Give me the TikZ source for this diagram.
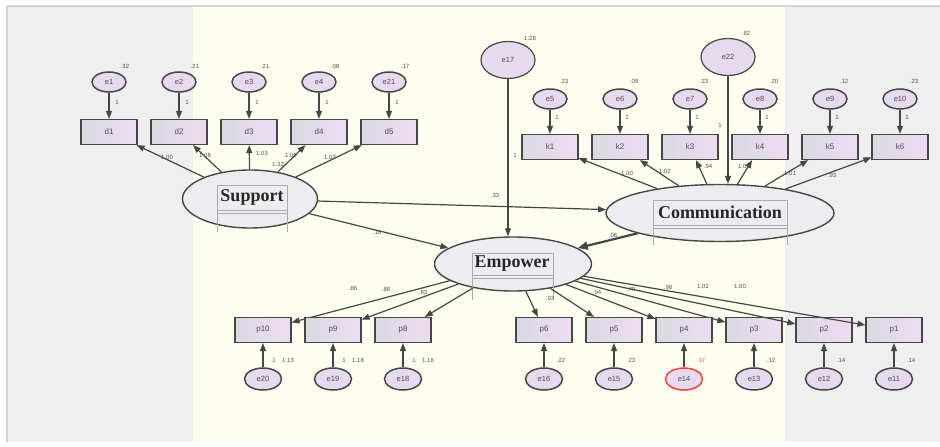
\documentclass[tikz,border=0pt]{standalone}
\usepackage{fontspec}
\setmainfont{Liberation Serif}
\setsansfont{Liberation Sans}
\usetikzlibrary{arrows.meta,shapes.geometric}
\definecolor{bggray}{HTML}{EFEFEF}
\definecolor{cream}{HTML}{FEFEF0}
\definecolor{framec}{HTML}{D4D4D4}
\definecolor{efill}{HTML}{E6DAEE}
\definecolor{boxL}{HTML}{DADAE2}
\definecolor{boxR}{HTML}{EEDCF2}
\definecolor{latfill}{HTML}{EDEDF1}
\definecolor{edgec}{HTML}{464646}
\definecolor{txtc}{HTML}{4E4A5E}
\definecolor{valc}{HTML}{505050}
\begin{document}
\begin{tikzpicture}[x=1pt,y=-1pt,
  err/.style={ellipse,draw=edgec,line width=1.5pt,fill=efill,minimum width=34pt,minimum height=20pt,inner sep=0pt,font=\sffamily\fontsize{7.5}{7.5}\selectfont,text=txtc},
  bigerr/.style={err,minimum width=54pt,minimum height=37pt,line width=1.2pt},
  obs/.style={rectangle,draw=edgec,line width=1.2pt,left color=boxL,right color=boxR,minimum width=56pt,minimum height=25pt,inner sep=0pt,font=\sffamily\fontsize{8}{8}\selectfont,text=txtc},
  lat/.style={ellipse,draw=edgec,line width=1.4pt,fill=latfill,inner sep=0pt},
  lattext/.style={font=\bfseries\fontsize{18}{18}\selectfont,text=black!85,inner sep=0pt},
  arr/.style={draw=edgec,line width=1.2pt,-{Triangle[length=8pt,width=6pt]}},
  val/.style={font=\sffamily\fontsize{6}{6}\selectfont,text=valc,inner sep=0pt},
  labbox/.style={draw=gray!65,line width=0.5pt}
]
\useasboundingbox (0,0) rectangle (940,447);
\fill[white] (0,0) rectangle (940,447);
\fill[bggray] (7,6) rectangle (940,442);
\draw[framec,line width=1.5pt] (7,442) -- (7,6) -- (940,6);
\fill[cream] (193,7) rectangle (785,442);

% latent variables
\node[lat,minimum width=135pt,minimum height=58pt] (sup) at (250,199) {};
\draw[labbox] (217,185) rectangle (287,210);
\draw[labbox] (217,213) -- (287,213);
\draw[labbox] (217,210) -- (217,232) (287,210) -- (287,232);
\node[lattext] (supt) at (252,197) {Support};

\node[lat,minimum width=228pt,minimum height=57pt] (com) at (720,213) {};
\draw[labbox] (653,200) rectangle (787,225);
\draw[labbox] (653,228) -- (787,228);
\draw[labbox] (653,225) -- (653,245) (787,225) -- (787,245);
\node[lattext] (comt) at (720,212) {Communication};

\node[lat,minimum width=157pt,minimum height=54pt] (emp) at (513,264) {};
\draw[labbox] (472,253) rectangle (553,275);
\draw[labbox] (472,278) -- (553,278);
\draw[labbox] (472,275) -- (472,300) (553,275) -- (553,300);
\node[lattext] (empt) at (512,264) {Empower};

% Support indicators
\foreach \e/\d/\x/\v in {e1/d1/109/.32, e2/d2/179/.21, e3/d3/249/.21, e4/d4/319/.08, e21/d5/389/.17}{
  \node[obs] (\d) at (\x,132) {\d};
  \node[err] (\e) at (\x,82) {\e};
  \draw[arr] (\e) -- (\d);
  \draw[arr] (sup) -- (\d);
  \node[val] (v\e) at (\x+16,66) {\v};
  \node[val] (w\e) at (\x+8,102) {1};
}
\node[val] (ls1) at (167,157) {1.00};
\node[val] (ls2) at (205,155) {1.08};
\node[val] (ls3) at (262,153) {1.03};
\node[val] (ls4) at (278,164) {1.32};
\node[val] (ls5) at (291,155) {1.09};
\node[val] (ls6) at (330,157) {1.03};

% Communication indicators
\foreach \e/\k/\x/\v in {e5/k1/550/.23, e6/k2/620/.09, e7/k3/690/.23, e8/k4/760/.20, e9/k5/830/.12, e10/k6/900/.23}{
  \node[obs] (\k) at (\x,147) {\k};
  \node[err] (\e) at (\x,99) {\e};
  \draw[arr] (\e) -- (\k);
  \draw[arr] (com) -- (\k);
  \node[val] (v\e) at (\x+14,81) {\v};
  \node[val] (w\e) at (\x+7,117) {1};
}
\node[val] (lc1) at (627,173) {1.00};
\node[val] (lc2) at (665,171) {1.02};
\node[val] (lc3) at (708,166) {.94};
\node[val] (lc4) at (744,166) {1.01};
\node[val] (lc5) at (790,173) {1.01};
\node[val] (lc6) at (832,175) {.93};

% disturbances
\node[bigerr] (e17) at (508,60) {e17};
\node[val] (ve17) at (530,38) {1.28};
\draw[arr] (e17) -- (e17 |- emp.north);
\node[val] (we17) at (515,155) {1};
\node[bigerr] (e22) at (728,57) {e22};
\node[val] (ve22) at (746,33) {.82};
\draw[arr] (e22) -- (e22 |- com.north);
\node[val] (we22) at (720,125) {1};

% structural paths
\draw[arr] (sup) -- (com);
\node[val] (l33) at (495,195) {.33};
\draw[arr] (sup) -- (emp);
\node[val] (l16) at (377,232) {.16};
\draw[draw=edgec,line width=2.2pt,-{Triangle[length=10pt,width=8pt]}] (com) -- (emp);
\node[val] (l06) at (613,235) {.06};

% Empower indicators
\foreach \e/\p/\x/\v in {e16/p6/544/.22, e15/p5/614/.23, e13/p3/754/.12, e12/p2/824/.14, e11/p1/894/.14}{
  \node[obs] (\p) at (\x,330) {\p};
  \node[err,minimum width=37pt,minimum height=22pt] (\e) at (\x,379) {\e};
  \draw[arr] (\e) -- (\p);
  \draw[arr] (emp) -- (\p);
  \node[val] (v\e) at (\x+17,360) {\v};
}
\node[obs] (p4) at (684,330) {p4};
\node[err,draw=red!75,minimum width=37pt,minimum height=22pt] (e14) at (684,379) {e14};
\draw[arr] (e14) -- (p4);
\draw[arr] (emp) -- (p4);
\node[val,text=red!80] (ve14) at (701,360) {.17};
\foreach \e/\p/\x/\v in {e20/p10/263/1.13, e19/p9/333/1.18, e18/p8/403/1.16}{
  \node[obs] (\p) at (\x,330) {\p};
  \node[err,minimum width=37pt,minimum height=22pt] (\e) at (\x,379) {\e};
  \draw[arr] (\e) -- (\p);
  \draw[arr] (emp) -- (\p);
  \node[val] (w\e) at (\x+11,360) {1};
  \node[val] (v\e) at (\x+25,360) {\v};
}
\node[val] (lp10) at (353,288) {.86};
\node[val] (lp9) at (386,289) {.88};
\node[val] (lp8) at (423,292) {.83};
\node[val] (lp6) at (550,298) {.93};
\node[val] (lp5) at (597,292) {.94};
\node[val] (lp4) at (631,289) {.79};
\node[val] (lp3) at (668,287) {.98};
\node[val] (lp2) at (703,286) {1.02};
\node[val] (lp1) at (740,286) {1.00};
\end{tikzpicture}
\end{document}
